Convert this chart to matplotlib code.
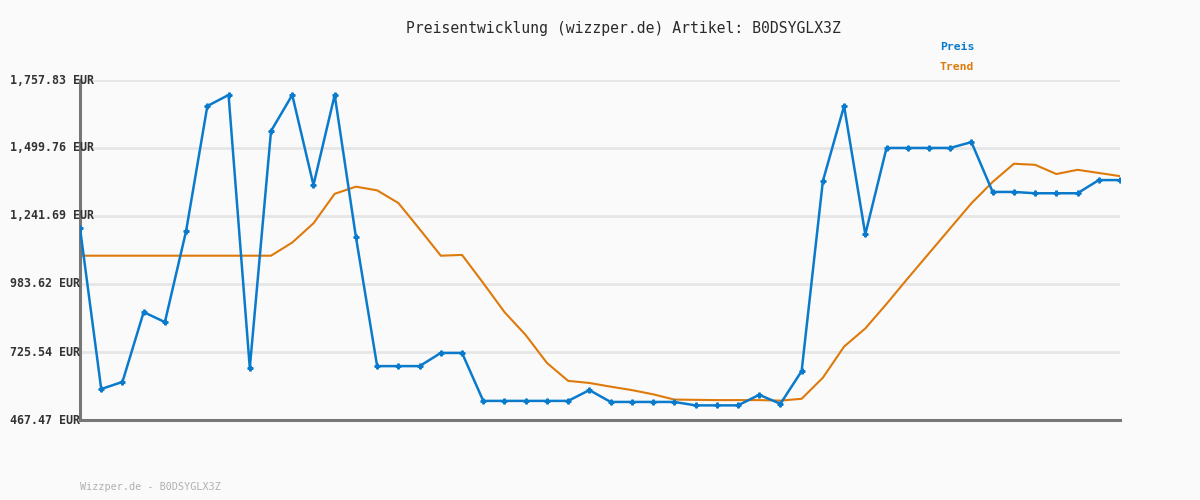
import matplotlib
matplotlib.use("Agg")
import matplotlib.pyplot as plt
from matplotlib.ticker import FixedLocator

title = "Preisentwicklung (wizzper.de) Artikel: B0DSYGLX3Z"
footer = "Wizzper.de - B0DSYGLX3Z"
y_ticks = [467.47, 725.54, 983.62, 1241.69, 1499.76, 1757.83]
y_tick_labels = ["467.47 EUR", "725.54 EUR", "983.62 EUR", "1,241.69 EUR", "1,499.76 EUR", "1,757.83 EUR"]

preis = [1196, 585, 612, 877, 839, 1185, 1659, 1701, 665, 1564,
         1701, 1359, 1701, 1162, 672, 672, 672, 722, 722, 540,
         540, 540, 540, 540, 581, 536, 536, 536, 536, 523,
         523, 523, 563, 529, 653, 1374, 1659, 1172, 1500, 1500,
         1500, 1500, 1522, 1333, 1333, 1328, 1328, 1328, 1378, 1378]

trend = [1091, 1091, 1091, 1091, 1091, 1091, 1091, 1091, 1091, 1091,
         1141, 1214, 1326, 1353, 1339, 1291, 1192, 1091, 1094, 987,
         877, 790, 684, 616, 608, 594, 581, 565, 545, 544,
         543, 543, 543, 541, 548, 628, 746, 815, 908, 1005,
         1100, 1195, 1290, 1371, 1440, 1436, 1401, 1417, 1405, 1393]

x = list(range(len(preis)))

blue = "#0a7bcc"
orange = "#de7a0a"
bg = "#fafafa"

fig = plt.figure(figsize=(12, 5), dpi=100, facecolor=bg)
ax = fig.add_axes([80/1200, 80/500, 1040/1200, 340/500], facecolor=bg)

ax.set_xlim(0, len(preis) - 1)
ax.set_ylim(y_ticks[0], y_ticks[-1])

for t in y_ticks[1:]:
    ax.axhline(t, color="#e6e6e6", lw=2, zorder=0)

ax.plot(x, trend, color=orange, lw=1.5, zorder=2, solid_joinstyle="round")
ax.plot(x, preis, color=blue, lw=1.8, marker="P", markersize=3.5, zorder=3, solid_joinstyle="round")

for s in ["top", "right"]:
    ax.spines[s].set_visible(False)
for s in ["left", "bottom"]:
    ax.spines[s].set_color("#777777")
    ax.spines[s].set_linewidth(2.2)

ax.set_xticks([])
ax.yaxis.set_major_locator(FixedLocator(y_ticks))
ax.set_yticklabels([])
ax.tick_params(axis="y", length=0)

for t, lab in zip(y_ticks, y_tick_labels):
    fig.text(10/1200, ax.transData.transform((0, t))[1] / 500, lab,
             ha="left", va="center", family="DejaVu Sans Mono",
             fontweight="bold", fontsize=8.4, color="#333333")

fig.text(623/1200, 1 - 28/500, title, ha="center", va="center",
         family="DejaVu Sans Mono", fontsize=10.6, color="#2a2a2a")
fig.text(940/1200, 1 - 47/500, "Preis", ha="left", va="center",
         family="DejaVu Sans Mono", fontweight="bold", fontsize=8.2, color=blue)
fig.text(940/1200, 1 - 67/500, "Trend", ha="left", va="center",
         family="DejaVu Sans Mono", fontweight="bold", fontsize=8.2, color=orange)
fig.text(80/1200, 1 - 487/500, footer, ha="left", va="center",
         family="DejaVu Sans Mono", fontsize=7.3, color="#b0b0b0")

fig.savefig("out.png", dpi=100, facecolor=bg)
